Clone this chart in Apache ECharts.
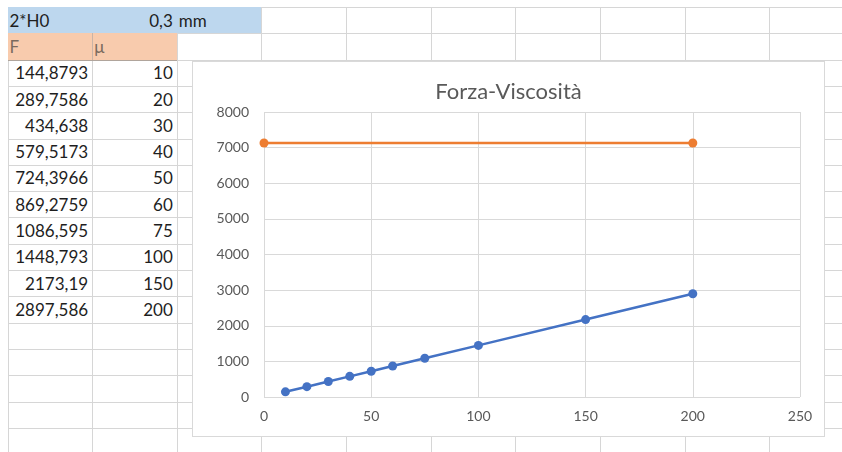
<!DOCTYPE html>
<html>
<head>
<meta charset="utf-8">
<script src="https://cdn.jsdelivr.net/npm/echarts@6/dist/echarts.min.js"></script>
<style>
  html, body { margin: 0; padding: 0; background: #fff; }
  body { width: 842px; height: 452px; overflow: hidden; position: relative;
         font-family: Lato, "Open Sans", sans-serif; }
  .vl { position: absolute; width: 1px; background: #d6d6d6; }
  .hl { position: absolute; height: 1px; background: #d6d6d6; }
  .cell { position: absolute; font-size: 17px; color: #1e1e1e; box-sizing: border-box;
          display: flex; align-items: center; white-space: nowrap; }
  .r { justify-content: flex-end; padding-right: 4px; }
  .l { justify-content: flex-start; padding-left: 2px; }
  #chart { position: absolute; left: 192px; top: 61px; width: 633px; height: 376px;
           background: #fff; box-sizing: border-box; border: 1px solid #d9d9d9; }
</style>
</head>
<body>
<div id="sheet"></div>
<div id="chart"></div>
<script>
// Worksheet contents
const headerLabel = '2*H0';
const headerValue = '0,3';
const headerUnit = 'mm';
const colNames = ['F', 'μ'];
const forceF = [144.8793, 289.7586, 434.638, 579.5173, 724.3966, 869.2759, 1086.595, 1448.793, 2173.19, 2897.586];
const viscMu = [10, 20, 30, 40, 50, 60, 75, 100, 150, 200];
// Horizontal reference series
const refX = [0, 200];
const refY = [7130, 7130];
// Axis settings
const xTicks = { min: 0, max: 250, step: 50 };
const yTicks = { min: 0, max: 8000, step: 1000 };
const chartTitle = 'Forza-Viscosità';

// Sheet geometry
const COL0 = 7.5, COLW = 84.65, ROW0 = 7, ROWH = 26.3;
const sheet = document.getElementById('sheet');
const colX = k => COL0 + COLW * k;
const rowY = r => ROW0 + ROWH * r;

function add(cls, style, text) {
  const d = document.createElement('div');
  d.className = cls;
  Object.assign(d.style, style);
  if (text !== undefined) d.textContent = text;
  sheet.appendChild(d);
  return d;
}

// grid lines
for (let k = 0; k <= 10; k++) {
  add('vl', { left: Math.round(colX(k)) + 'px', top: Math.round(rowY(0)) + 'px', height: (452 - rowY(0)) + 'px' });
}
for (let r = 0; r <= 17; r++) {
  add('hl', { left: Math.round(colX(0)) + 'px', top: Math.round(rowY(r)) + 'px', width: (842 - colX(0)) + 'px' });
}

// fills
add('cell', { left: colX(0) + 'px', top: rowY(0) + 'px', width: (colX(3) - colX(0)) + 'px',
              height: ROWH + 'px', background: '#bdd7ee' });
add('cell', { left: colX(0) + 'px', top: rowY(1) + 'px', width: (colX(2) - colX(0)) + 'px',
              height: (ROWH + 1) + 'px', background: '#f8cbad', borderBottom: '1px solid #b0a59c' });
add('vl', { left: Math.round(colX(1)) + 'px', top: rowY(1) + 'px', height: ROWH + 'px', background: '#c9b4a6' });

function cell(col, row, text, align, color) {
  const st = { left: colX(col) + 'px', top: rowY(row) + 'px', width: COLW + 'px', height: ROWH + 'px' };
  if (color) st.color = color;
  add('cell ' + align, st, text);
}
cell(0, 0, headerLabel, 'l');
cell(1, 0, headerValue, 'r');
cell(2, 0, headerUnit, 'l');
cell(0, 1, colNames[0], 'l', '#7a6a5e');
cell(1, 1, colNames[1], 'l', '#7a6a5e');
const fmt = v => String(v).replace('.', ',');
forceF.forEach((v, i) => {
  cell(0, i + 2, fmt(v), 'r');
  cell(1, i + 2, String(viscMu[i]), 'r');
});

// Chart
const chart = echarts.init(document.getElementById('chart'));
const axisText = { color: '#595959', fontSize: 14, fontFamily: 'Lato', formatter: v => String(v) };
const split = { show: true, lineStyle: { color: '#d9d9d9', width: 1 } };
chart.setOption({
  animation: false,
  title: {
    text: chartTitle, left: 'center', top: 14,
    textStyle: { color: '#595959', fontSize: 22, fontWeight: 'normal', fontFamily: 'Lato' }
  },
  grid: { left: 71, top: 50, width: 536, height: 285 },
  xAxis: {
    type: 'value', min: xTicks.min, max: xTicks.max, interval: xTicks.step,
    axisLine: { show: false }, axisTick: { show: false },
    axisLabel: Object.assign({ margin: 12 }, axisText),
    splitLine: split
  },
  yAxis: {
    type: 'value', min: yTicks.min, max: yTicks.max, interval: yTicks.step,
    axisLine: { show: false }, axisTick: { show: false },
    axisLabel: Object.assign({ margin: 15 }, axisText),
    splitLine: split
  },
  series: [
    {
      type: 'line', data: viscMu.map((m, i) => [m, forceF[i]]),
      symbol: 'circle', symbolSize: 9,
      itemStyle: { color: '#4472c4' }, lineStyle: { color: '#4472c4', width: 2.5 }
    },
    {
      type: 'line', data: refX.map((x, i) => [x, refY[i]]),
      symbol: 'circle', symbolSize: 9,
      itemStyle: { color: '#ed7d31' }, lineStyle: { color: '#ed7d31', width: 2.5 }
    }
  ]
});
</script>
</body>
</html>
